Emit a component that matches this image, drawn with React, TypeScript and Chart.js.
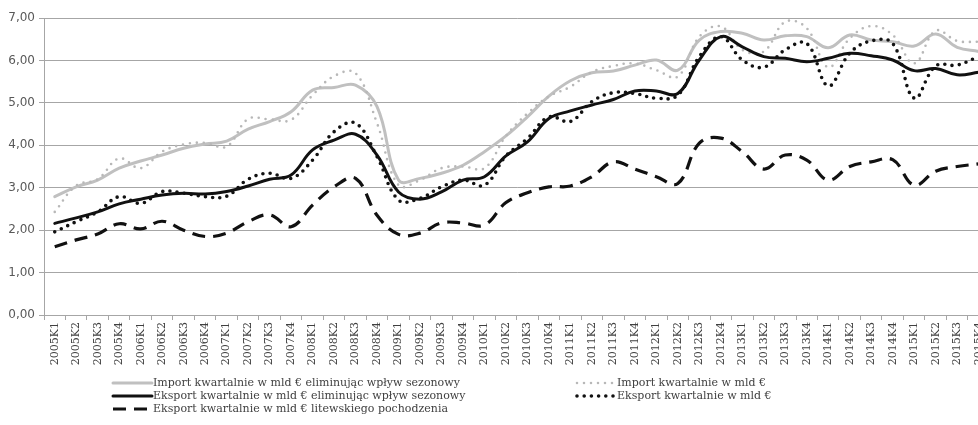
import { useEffect, useRef } from "react";
import { Chart, registerables } from "chart.js";

Chart.register(...registerables);

const categories = [
  "2005K1", "2005K2", "2005K3", "2005K4",
  "2006K1", "2006K2", "2006K3", "2006K4",
  "2007K1", "2007K2", "2007K3", "2007K4",
  "2008K1", "2008K2", "2008K3", "2008K4",
  "2009K1", "2009K2", "2009K3", "2009K4",
  "2010K1", "2010K2", "2010K3", "2010K4",
  "2011K1", "2011K2", "2011K3", "2011K4",
  "2012K1", "2012K2", "2012K3", "2012K4",
  "2013K1", "2013K2", "2013K3", "2013K4",
  "2014K1", "2014K2", "2014K3", "2014K4",
  "2015K1", "2015K2", "2015K3", "2015K4",
];

const importSA = [
  2.79, 3.02, 3.18, 3.46, 3.63, 3.77, 3.93, 4.03, 4.10, 4.38, 4.56, 4.79,
  5.30, 5.36, 5.42, 4.91, 3.18, 3.22, 3.34, 3.53, 3.85, 4.22, 4.67, 5.16,
  5.52, 5.71, 5.75, 5.89, 6.01, 5.77, 6.48, 6.68, 6.64, 6.48, 6.58, 6.56,
  6.30, 6.60, 6.48, 6.44, 6.34, 6.62, 6.31, 6.21,
];

const importRaw = [
  2.43, 3.05, 3.20, 3.69, 3.46, 3.85, 4.02, 4.06, 3.97, 4.62, 4.61, 4.60,
  5.18, 5.63, 5.70, 4.52, 3.06, 3.18, 3.46, 3.50, 3.46, 4.22, 4.75, 5.15,
  5.38, 5.73, 5.87, 5.93, 5.77, 5.62, 6.56, 6.80, 6.25, 6.21, 6.91, 6.76,
  5.84, 6.52, 6.81, 6.60, 5.93, 6.70, 6.46, 6.44,
];

const eksportSA = [
  2.16, 2.29, 2.43, 2.62, 2.73, 2.83, 2.87, 2.85, 2.91, 3.04, 3.20, 3.30,
  3.89, 4.12, 4.26, 3.77, 2.90, 2.73, 2.90, 3.18, 3.26, 3.75, 4.08, 4.63,
  4.81, 4.95, 5.08, 5.28, 5.28, 5.22, 6.01, 6.56, 6.32, 6.09, 6.05, 5.97,
  6.05, 6.17, 6.11, 6.01, 5.76, 5.81, 5.66, 5.72,
];

const eksportRaw = [
  1.96, 2.20, 2.43, 2.79, 2.63, 2.91, 2.87, 2.79, 2.80, 3.20, 3.34, 3.22,
  3.65, 4.32, 4.52, 3.73, 2.71, 2.75, 3.02, 3.18, 3.06, 3.75, 4.16, 4.67,
  4.56, 5.03, 5.24, 5.22, 5.11, 5.18, 6.09, 6.56, 6.01, 5.84, 6.25, 6.40,
  5.40, 6.17, 6.46, 6.40, 5.11, 5.87, 5.89, 6.09,
];

const eksportLT = [
  1.61, 1.77, 1.91, 2.15, 2.03, 2.21, 2.00, 1.85, 1.93, 2.20, 2.36, 2.08,
  2.59, 3.02, 3.22, 2.35, 1.90, 1.93, 2.17, 2.17, 2.12, 2.65, 2.88, 3.02,
  3.04, 3.26, 3.61, 3.44, 3.26, 3.10, 4.05, 4.17, 3.85, 3.44, 3.77, 3.65,
  3.18, 3.50, 3.61, 3.66, 3.06, 3.39, 3.50, 3.56,
];

const seriesLabels = [
  "Import kwartalnie w mld € eliminując wpływ sezonowy",
  "Import kwartalnie w mld €",
  "Eksport kwartalnie w mld € eliminując wpływ sezonowy",
  "Eksport kwartalnie w mld €",
  "Eksport kwartalnie w mld € litewskiego pochodzenia",
];

const yTicks = [0, 1, 2, 3, 4, 5, 6, 7];

export default function App() {
  const ref = useRef<HTMLCanvasElement>(null);

  useEffect(() => {
    if (!ref.current) return;

    // legend slots: [datasetIndex, column, row]
    const slots = [
      [0, 0, 0],
      [1, 1, 0],
      [2, 0, 1],
      [3, 1, 1],
      [4, 0, 2],
    ];

    const legendPlugin = {
      id: "bottomLegend",
      afterDraw(chart: any) {
        const ctx = chart.ctx as CanvasRenderingContext2D;
        const colX = [113, 577];
        const sampleW = 39;
        const rowY = [383, 396, 409];
        ctx.save();
        slots.forEach(([di, col, row]) => {
          const ds = chart.data.datasets[di];
          const x1 = colX[col];
          const x2 = x1 + sampleW;
          const y = rowY[row];
          ctx.beginPath();
          ctx.strokeStyle = ds.borderColor;
          ctx.lineWidth = ds.borderWidth;
          ctx.lineCap = ds.borderCapStyle || "butt";
          ctx.setLineDash(ds.borderDash || []);
          ctx.moveTo(x1, y);
          ctx.lineTo(x2, y);
          ctx.stroke();
          ctx.setLineDash([]);
          ctx.fillStyle = "#404040";
          ctx.font = "11px 'DejaVu Serif'";
          ctx.textBaseline = "middle";
          ctx.textAlign = "left";
          ctx.fillText(ds.label, x2 + 1, y);
        });
        ctx.restore();
      },
    };

    const chart = new Chart(ref.current, {
      type: "line",
      data: {
        labels: categories,
        datasets: [
          {
            label: seriesLabels[0],
            data: importSA,
            borderColor: "#c0c0c0",
            borderWidth: 3,
            borderCapStyle: "round",
            tension: 0.4,
            pointRadius: 0,
            order: 5,
          },
          {
            label: seriesLabels[1],
            data: importRaw,
            borderColor: "#b8b8b8",
            borderWidth: 2.6,
            borderDash: [0, 7],
            borderCapStyle: "round",
            tension: 0.4,
            pointRadius: 0,
            order: 4,
          },
          {
            label: seriesLabels[2],
            data: eksportSA,
            borderColor: "#111111",
            borderWidth: 3,
            borderCapStyle: "round",
            tension: 0.4,
            pointRadius: 0,
            order: 3,
          },
          {
            label: seriesLabels[3],
            data: eksportRaw,
            borderColor: "#111111",
            borderWidth: 3.6,
            borderDash: [0, 7.2],
            borderCapStyle: "round",
            tension: 0.4,
            pointRadius: 0,
            order: 2,
          },
          {
            label: seriesLabels[4],
            data: eksportLT,
            borderColor: "#111111",
            borderWidth: 3.2,
            borderDash: [13, 8],
            borderCapStyle: "butt",
            tension: 0.4,
            pointRadius: 0,
            order: 1,
          },
        ],
      },
      options: {
        responsive: false,
        animation: false,
        layout: { padding: { left: 0, top: 18, right: 10.6, bottom: 0 } },
        plugins: {
          legend: { display: false },
          tooltip: { enabled: false },
        },
        scales: {
          x: {
            type: "category",
            offset: true,
            grid: {
              offset: true,
              drawOnChartArea: false,
              drawTicks: true,
              tickLength: 5,
              color: "#a6a6a6",
            },
            border: { color: "#a6a6a6", width: 1 },
            ticks: {
              autoSkip: false,
              maxRotation: 90,
              minRotation: 90,
              padding: 2,
              color: "#404040",
              font: { family: "'DejaVu Serif'", size: 11 },
            },
            afterFit(scale: any) {
              scale.height = 110;
            },
          },
          y: {
            min: yTicks[0],
            max: yTicks[yTicks.length - 1],
            afterBuildTicks(scale: any) {
              scale.ticks = yTicks.map((v) => ({ value: v }));
            },
            grid: { color: "#a6a6a6", tickLength: 5 },
            border: { color: "#a6a6a6", width: 1 },
            ticks: {
              padding: 4,
              color: "#595959",
              font: { family: "'DejaVu Sans'", size: 12 },
              callback: (v: any) => Number(v).toFixed(2).replace(".", ","),
            },
            afterFit(scale: any) {
              scale.width = 44;
            },
          },
        },
      },
      plugins: [legendPlugin],
    } as any);

    return () => chart.destroy();
  }, []);

  return (
    <div
      style={{
        position: "fixed",
        left: 0,
        top: 0,
        width: 978,
        height: 425,
        overflow: "hidden",
        background: "#ffffff",
      }}
    >
      <canvas
        ref={ref}
        width={1000}
        height={425}
        style={{ display: "block", width: 1000, height: 425 }}
      />
    </div>
  );
}
